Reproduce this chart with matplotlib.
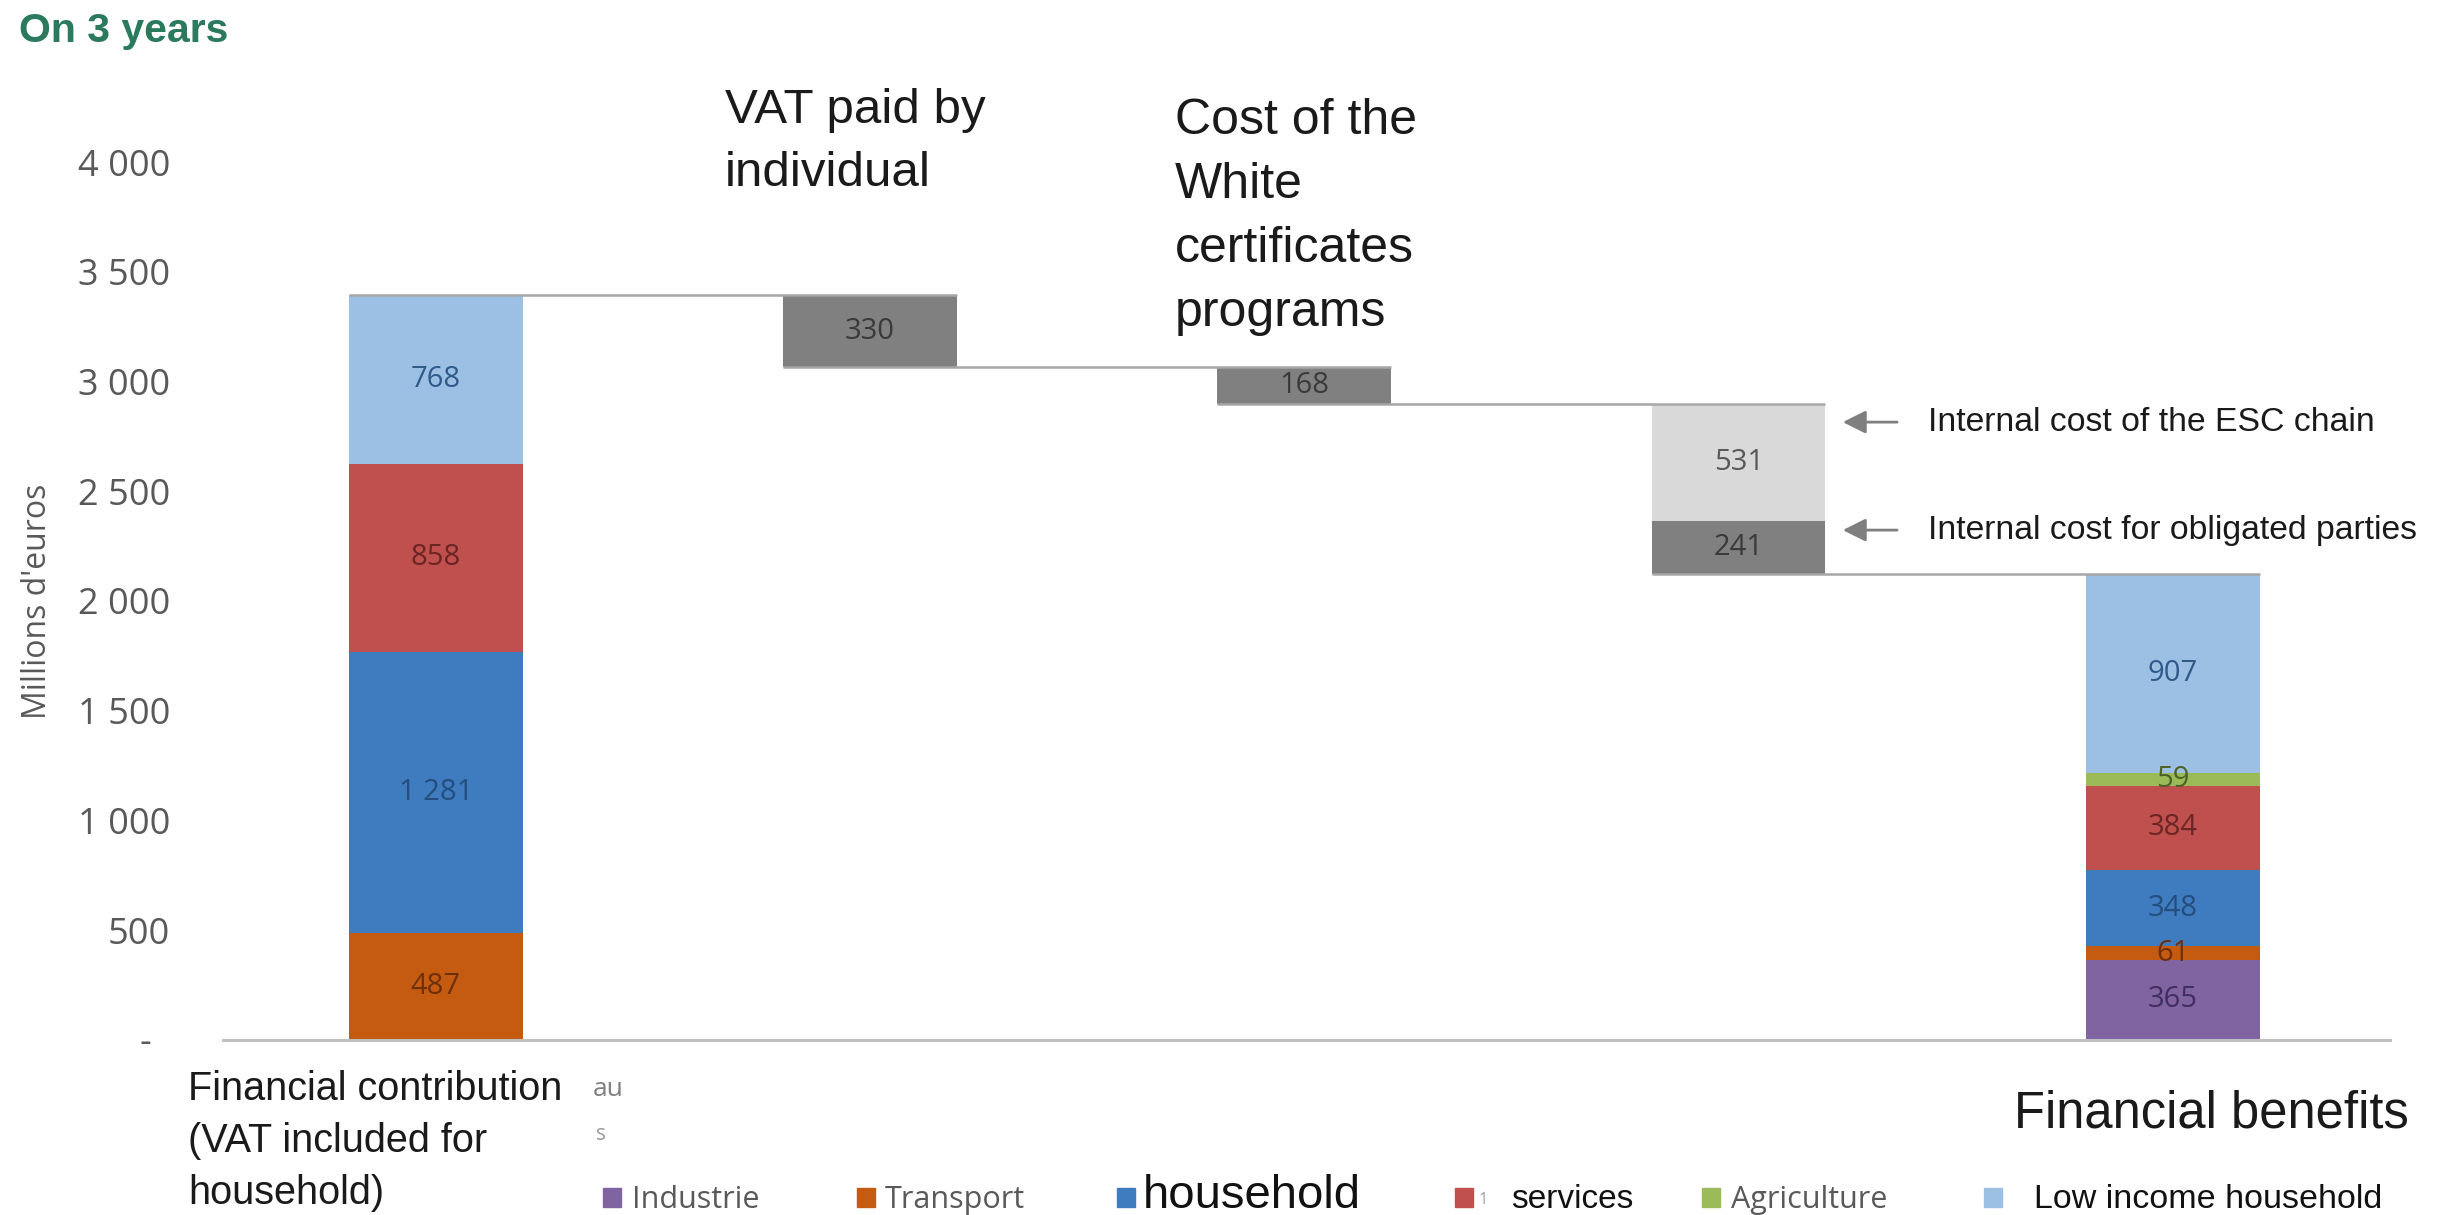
import matplotlib
matplotlib.use("Agg")
import matplotlib.pyplot as plt
from matplotlib.patches import Rectangle
from matplotlib.transforms import ScaledTranslation

# ---- data -------------------------------------------------------------
sectors = ["Industrie", "Transport", "household", "services", "Agriculture",
           "Low income household"]
contribution = [0, 487, 1281, 858, 0, 768]      # Financial contribution
benefits = [365, 61, 348, 384, 59, 907]         # Financial benefits

step_values = [330, 168, 531, 241]
step_column = [1, 2, 3, 3]
step_colors = ["#808080", "#808080", "#d9d9d9", "#808080"]
step_text_colors = ["#3a3a3a", "#3a3a3a", "#595959", "#3a3a3a"]

sector_colors = ["#8064a2", "#c55a11", "#3e7bbf", "#c0504d", "#9bbb59", "#9bc0e4"]
sector_text_colors = ["#3f2f5e", "#6e300a", "#234e7e", "#6b2524", "#4f6228", "#2f5a8a"]

yticks = [0, 500, 1000, 1500, 2000, 2500, 3000, 3500, 4000]
ytick_labels = ["-", "500", "1 000", "1 500", "2 000", "2 500", "3 000", "3 500", "4 000"]

# ---- figure -------------------------------------------------------------
W, H = 2449, 1215
fig = plt.figure(figsize=(W / 100, H / 100), dpi=100)
fig.patch.set_facecolor("white")


def fx(px):
    return px / W


def fy(py):
    return 1 - py / H


ax = fig.add_axes([fx(223), fy(1040), fx(2390) - fx(223), fy(162) - fy(1040)])
ax.set_xlim(-0.49, 4.5)
ax.set_ylim(0, 4000)

BAR_W = 0.4
NUM_FONT = "Open Sans"
BIG_FONT = "Liberation Sans"


def fmt(v):
    return f"{v:,}".replace(",", " ")


def stacked(x, values):
    bottom = 0
    for v, c, tc in zip(values, sector_colors, sector_text_colors):
        if v > 0:
            ax.bar(x, v, bottom=bottom, width=BAR_W, color=c, zorder=2)
            ax.text(x, bottom + v / 2, fmt(v), ha="center", va="center",
                    fontsize=21, family=NUM_FONT, color=tc, zorder=4)
        bottom += v
    return bottom


# first and last columns
total_in = stacked(0, contribution)
stacked(4, benefits)

# falling steps in between
level = total_in
boundaries = [(0, total_in)]
for col, v, c, tc in zip(step_column, step_values, step_colors, step_text_colors):
    bottom = level - v
    ax.bar(col, v, bottom=bottom, width=BAR_W, color=c, zorder=2)
    ax.text(col, bottom + v / 2, fmt(v), ha="center", va="center",
            fontsize=21, family=NUM_FONT, color=tc, zorder=4)
    level = bottom
    if boundaries[-1][0] == col:
        boundaries[-1] = (col, level)
    else:
        boundaries.append((col, level))

# connector lines between columns
for col, lev in boundaries:
    ax.plot([col - BAR_W / 2, col + 1 + BAR_W / 2], [lev, lev],
            color="#a6a6a6", lw=1.8, zorder=3, solid_capstyle="butt")

# ---- axes styling --------------------------------------------------------
for s in ["left", "right", "top"]:
    ax.spines[s].set_visible(False)
ax.spines["bottom"].set_color("#c0c0c0")
ax.spines["bottom"].set_linewidth(2.2)
ax.set_xticks([])
ax.set_yticks(yticks)
ax.set_yticklabels(ytick_labels, family=NUM_FONT, fontsize=26, color="#595959")
ax.tick_params(axis="y", length=0, pad=38)
zero_lbl = ax.get_yticklabels()[0]
zero_lbl.set_transform(zero_lbl.get_transform() +
                       ScaledTranslation(-19 / 100, 0, fig.dpi_scale_trans))

ax.set_ylabel("Millions d'euros", family=NUM_FONT, fontsize=23, color="#595959",
              va="center")
ax.yaxis.set_label_coords((38 - 223) / (2390 - 223), 0.5)

# ---- annotations -----------------------------------------------------------
fig.text(fx(19), fy(31), "On 3 years", family=BIG_FONT, fontsize=29.5,
         fontweight="bold", color="#2b7a5e", ha="left", va="center")

fig.text(fx(725), fy(88), "VAT paid by\nindividual", family=BIG_FONT,
         fontsize=35.5, color="#1a1a1a", ha="left", va="top", linespacing=1.5)
fig.text(fx(1175), fy(98), "Cost of the\nWhite\ncertificates\nprograms",
         family=BIG_FONT, fontsize=36, color="#1a1a1a", ha="left", va="top",
         linespacing=1.5)

fig.text(fx(188), fy(1070), "Financial contribution\n(VAT included for\nhousehold)",
         family=BIG_FONT, fontsize=28.5, color="#1a1a1a", ha="left", va="top",
         linespacing=1.47)
fig.text(fx(2014), fy(1128), "Financial benefits", family=BIG_FONT,
         fontsize=36.5, color="#1a1a1a", ha="left", va="baseline")

fig.text(fx(593), fy(1090), "au", family=NUM_FONT, fontsize=19, color="#7f7f7f",
         ha="left", va="center")
fig.text(fx(596), fy(1135), "s", family=NUM_FONT, fontsize=15, color="#9a9a9a",
         ha="left", va="center")

# arrows pointing at the two internal cost blocks
arrow_y = [2815, 2323]
arrow_text = ["Internal cost of the ESC chain", "Internal cost for obligated parties"]
for yv, txt in zip(arrow_y, arrow_text):
    ax.annotate("", xy=(3 + BAR_W / 2 + 0.04, yv), xytext=(3.365, yv),
                arrowprops=dict(arrowstyle="-|>,head_length=0.7,head_width=0.35",
                                color="#7f7f7f", lw=2, mutation_scale=20,
                                shrinkA=0, shrinkB=0),
                annotation_clip=False)
    ax.text(3.436, yv, txt, family=BIG_FONT, fontsize=24.3, color="#1a1a1a",
            ha="left", va="center", clip_on=False)

# ---- legend row ------------------------------------------------------------
legend_marker_x = [603, 857, 1117, 1455, 1702, 1984]
legend_text_x = [632, 885, 1143, 1511, 1731, 2034]
legend_styles = [
    dict(family=NUM_FONT, fontsize=22, color="#595959"),
    dict(family=NUM_FONT, fontsize=22, color="#595959"),
    dict(family=BIG_FONT, fontsize=34, color="#111111"),
    dict(family=BIG_FONT, fontsize=24, color="#111111"),
    dict(family=NUM_FONT, fontsize=22, color="#595959"),
    dict(family=BIG_FONT, fontsize=24.5, color="#111111"),
]
for name, c, mx, tx, st in zip(sectors, sector_colors, legend_marker_x,
                               legend_text_x, legend_styles):
    fig.patches.append(Rectangle((fx(mx), fy(1207)), 18 / W, 19 / H,
                                 transform=fig.transFigure, color=c))
    fig.text(fx(tx), fy(1208), name, ha="left", va="baseline", **st)
fig.text(fx(1479), fy(1200), "1", family=NUM_FONT, fontsize=12, color="#a0a0a0",
         ha="left", va="center")

fig.savefig("out.png", dpi=100, facecolor="white")
